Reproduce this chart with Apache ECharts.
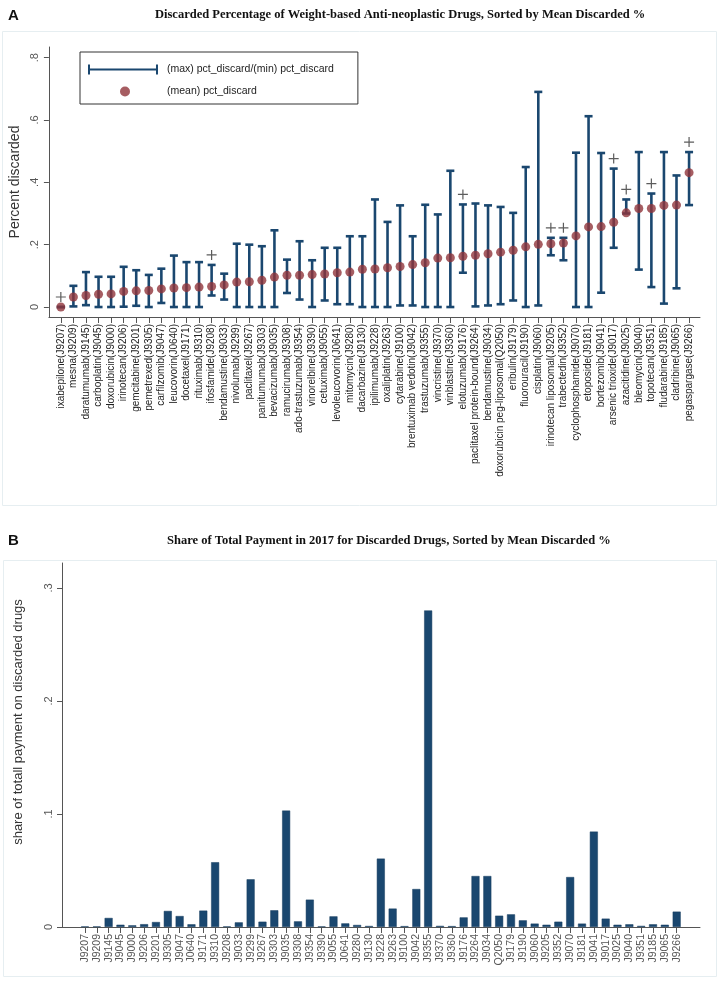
<!DOCTYPE html>
<html>
<head>
<meta charset="utf-8">
<script src="https://cdn.jsdelivr.net/npm/echarts@6/dist/echarts.min.js"></script>
<style>
  html, body { margin: 0; padding: 0; background: #fff; }
  #main { width: 720px; height: 981px; }
</style>
</head>
<body>
<div id="main"></div>
<script>
// drugs sorted by mean discarded share
const drugs = [
  'ixabepilone(J9207)', 'mesna(J9209)', 'daratumumab(J9145)', 'carboplatin(J9045)', 'doxorubicin(J9000)',
  'irinotecan(J9206)', 'gemcitabine(J9201)', 'pemetrexed(J9305)', 'carfilzomib(J9047)', 'leucovorin(J0640)',
  'docetaxel(J9171)', 'rituximab(J9310)', 'ifosfamide(J9208)', 'bendamustine(J9033)', 'nivolumab(J9299)',
  'paclitaxel(J9267)', 'panitumumab(J9303)', 'bevacizumab(J9035)', 'ramucirumab(J9308)', 'ado-trastuzumab(J9354)',
  'vinorelbine(J9390)', 'cetuximab(J9055)', 'levoleucovorin(J0641)', 'mitomycin(J9280)', 'dacarbazine(J9130)',
  'ipilimumab(J9228)', 'oxaliplatin(J9263)', 'cytarabine(J9100)', 'brentuximab vedotin(J9042)', 'trastuzumab(J9355)',
  'vincristine(J9370)', 'vinblastine(J9360)', 'elotuzumab(J9176)', 'paclitaxel protein-bound(J9264)', 'bendamustine(J9034)',
  'doxorubicin peg-liposomal(Q2050)', 'eribulin(J9179)', 'fluorouracil(J9190)', 'cisplatin(J9060)', 'irinotecan liposomal(J9205)',
  'trabectedin(J9352)', 'cyclophosphamide(J9070)', 'etoposide(J9181)', 'bortezomib(J9041)', 'arsenic trioxide(J9017)',
  'azacitidine(J9025)', 'bleomycin(J9040)', 'topotecan(J9351)', 'fludarabine(J9185)', 'cladribine(J9065)',
  'pegaspargase(J9266)'
];
const codes = [
  'J9207', 'J9209', 'J9145', 'J9045', 'J9000', 'J9206', 'J9201', 'J9305', 'J9047', 'J0640',
  'J9171', 'J9310', 'J9208', 'J9033', 'J9299', 'J9267', 'J9303', 'J9035', 'J9308', 'J9354',
  'J9390', 'J9055', 'J0641', 'J9280', 'J9130', 'J9228', 'J9263', 'J9100', 'J9042', 'J9355',
  'J9370', 'J9360', 'J9176', 'J9264', 'J9034', 'Q2050', 'J9179', 'J9190', 'J9060', 'J9205',
  'J9352', 'J9070', 'J9181', 'J9041', 'J9017', 'J9025', 'J9040', 'J9351', 'J9185', 'J9065',
  'J9266'
];
const meanPct = [
  0.000, 0.032, 0.037, 0.041, 0.042, 0.050, 0.052, 0.053, 0.058, 0.061,
  0.062, 0.064, 0.066, 0.071, 0.080, 0.081, 0.086, 0.096, 0.102, 0.102,
  0.104, 0.106, 0.110, 0.112, 0.121, 0.122, 0.126, 0.130, 0.136, 0.142,
  0.157, 0.158, 0.163, 0.166, 0.171, 0.176, 0.182, 0.193, 0.201, 0.203,
  0.205, 0.228, 0.257, 0.258, 0.272, 0.302, 0.316, 0.316, 0.326, 0.327,
  0.431
];
const maxPct = [
  0.000, 0.068, 0.112, 0.097, 0.097, 0.129, 0.118, 0.103, 0.123, 0.165,
  0.144, 0.144, 0.135, 0.107, 0.203, 0.200, 0.195, 0.246, 0.152, 0.211,
  0.150, 0.190, 0.190, 0.227, 0.227, 0.345, 0.273, 0.326, 0.227, 0.328,
  0.297, 0.437, 0.329, 0.332, 0.326, 0.321, 0.302, 0.449, 0.690, 0.222,
  0.222, 0.495, 0.612, 0.494, 0.444, 0.345, 0.497, 0.364, 0.497, 0.422,
  0.497
];
const minPct = [
  0.000, 0.002, 0.006, 0.000, 0.000, 0.001, 0.004, 0.000, 0.013, 0.000,
  0.000, 0.000, 0.037, 0.024, 0.000, 0.000, 0.000, 0.000, 0.045, 0.024,
  0.000, 0.021, 0.009, 0.009, 0.000, 0.000, 0.000, 0.005, 0.005, 0.000,
  0.000, 0.000, 0.110, 0.002, 0.005, 0.009, 0.021, 0.000, 0.005, 0.166,
  0.150, 0.000, 0.000, 0.046, 0.190, 0.300, 0.120, 0.064, 0.011, 0.060,
  0.327
];
// drugs flagged with "+" above the bar
const plusIdx = [0, 12, 32, 39, 40, 44, 45, 47, 50];
const sharePay = [
  0.0005, 0.0005, 0.0080, 0.0020, 0.0015, 0.0025, 0.0044, 0.0142, 0.0097, 0.0024,
  0.0145, 0.0573, 0.0005, 0.0041, 0.0422, 0.0047, 0.0148, 0.1030, 0.0050, 0.0242,
  0.0005, 0.0094, 0.0032, 0.0018, 0.0009, 0.0605, 0.0163, 0.0008, 0.0336, 0.2800,
  0.0010, 0.0008, 0.0085, 0.0451, 0.0451, 0.0100, 0.0112, 0.0059, 0.0030, 0.0020,
  0.0047, 0.0442, 0.0030, 0.0844, 0.0074, 0.0020, 0.0024, 0.0010, 0.0024, 0.0020,
  0.0136
];
const yTicksA = [0, 0.2, 0.4, 0.6, 0.8];
const yTicksB = [0, 0.1, 0.2, 0.3];

const navy = '#1a476f';
const maroon = '#90353b';
const font = '"Liberation Sans", Arial, sans-serif';
const idx = drugs.map((d, i) => i);
const tickLabel = v => v === 0 ? '0' : String(+v.toFixed(1)).replace(/^0/, '');

const chart = echarts.init(document.getElementById('main'), null, {renderer: 'canvas'});

const errName = '(max) pct_discard/(min) pct_discard';
const meanName = '(mean) pct_discard';

chart.setOption({
  backgroundColor: '#fff',
  animation: false,
  textStyle: {fontFamily: font},
  title: [
    {text: 'A', left: 3, top: 3, textStyle: {fontSize: 15, fontWeight: 'bold', color: '#111', fontFamily: font}},
    {text: 'Discarded Percentage of Weight-based Anti-neoplastic Drugs, Sorted by Mean Discarded %',
      left: 150, top: 3,
      textStyle: {fontSize: 12.5, fontWeight: 'bold', color: '#111', fontFamily: '"Liberation Serif", "Times New Roman", serif'}},
    {text: 'B', left: 3, top: 528, textStyle: {fontSize: 15, fontWeight: 'bold', color: '#111', fontFamily: font}},
    {text: 'Share of Total Payment in 2017 for Discarded Drugs, Sorted by Mean Discarded %',
      left: 162, top: 529,
      textStyle: {fontSize: 12.5, fontWeight: 'bold', color: '#111', fontFamily: '"Liberation Serif", "Times New Roman", serif'}}
  ],
  graphic: [
    {type: 'rect', shape: {x: 2.5, y: 31.5, width: 714, height: 474}, style: {fill: null, stroke: '#e6eef1', lineWidth: 1}, silent: true},
    {type: 'rect', shape: {x: 3.5, y: 560.5, width: 713, height: 416}, style: {fill: null, stroke: '#e6eef1', lineWidth: 1}, silent: true}
  ],
  legend: {
    left: 80, top: 52,
    orient: 'vertical',
    padding: [12, 24, 7, 8],
    itemGap: 11,
    itemWidth: 74,
    itemHeight: 10,
    symbolKeepAspect: true,
    borderColor: '#333',
    borderWidth: 1,
    textStyle: {fontSize: 10.5, color: '#222', fontFamily: font},
    data: [
      {name: errName, icon: 'path://M0,0h2v10h-2z M2,4h66v2h-66z M68,0h2v10h-2z M74,0h0.01v0.01h-0.01z', itemStyle: {color: navy}},
      {name: meanName, icon: 'circle', itemStyle: {color: maroon}}
    ]
  },
  grid: [
    {left: 48, right: 20, top: 47, bottom: 664},
    {left: 62, right: 20, top: 563, bottom: 54}
  ],
  xAxis: [
    {
      gridIndex: 0, type: 'value', min: -0.95, max: 50.87,
      splitLine: {show: false},
      axisLine: {onZero: false, lineStyle: {color: '#555', width: 1}},
      axisTick: {customValues: idx, length: 6, lineStyle: {color: '#555'}},
      axisLabel: {customValues: idx, rotate: 90, margin: 7, fontSize: 10, color: '#222',
        formatter: v => drugs[Math.round(v)] || ''}
    },
    {
      gridIndex: 1, type: 'value', min: -1.94, max: 51.97,
      splitLine: {show: false},
      axisLine: {onZero: false, lineStyle: {color: '#555', width: 1}},
      axisTick: {customValues: idx, length: 6, lineStyle: {color: '#555'}},
      axisLabel: {customValues: idx, rotate: 90, margin: 7, fontSize: 10.5, color: '#555',
        formatter: v => codes[Math.round(v)] || ''}
    }
  ],
  yAxis: [
    {
      gridIndex: 0, type: 'value', min: -0.032, max: 0.834,
      name: 'Percent discarded', nameLocation: 'middle', nameGap: 26,
      nameTextStyle: {fontSize: 14, color: '#333', fontFamily: font},
      splitLine: {show: false},
      axisLine: {show: true, onZero: false, lineStyle: {color: '#555'}},
      axisTick: {show: true, customValues: yTicksA, length: 5, lineStyle: {color: '#555'}},
      axisLabel: {customValues: yTicksA, rotate: 90, margin: 8, fontSize: 11, color: '#555', formatter: tickLabel}
    },
    {
      gridIndex: 1, type: 'value', min: 0, max: 0.322,
      name: 'share of totall payment on discarded drugs', nameLocation: 'middle', nameGap: 37,
      nameTextStyle: {fontSize: 13, color: '#333', fontFamily: font, padding: [0, 0, 0, 46]},
      splitLine: {show: false},
      axisLine: {show: true, onZero: false, lineStyle: {color: '#555'}},
      axisTick: {show: true, customValues: yTicksB, length: 5, lineStyle: {color: '#555'}},
      axisLabel: {customValues: yTicksB, rotate: 90, margin: 8, fontSize: 11, color: '#555', formatter: tickLabel}
    }
  ],
  series: [
    {
      name: errName,
      type: 'custom',
      xAxisIndex: 0, yAxisIndex: 0,
      data: idx.map(i => [i, maxPct[i], minPct[i]]),
      encode: {x: 0, y: [1, 2]},
      itemStyle: {color: navy},
      renderItem: function (params, api) {
        const hi = api.coord([api.value(0), api.value(1)]);
        const lo = api.coord([api.value(0), api.value(2)]);
        const cap = 4;
        const st = {stroke: navy, lineWidth: 2.6};
        return {
          type: 'group',
          children: [
            {type: 'line', shape: {x1: hi[0], y1: hi[1], x2: lo[0], y2: lo[1]}, style: st},
            {type: 'line', shape: {x1: hi[0] - cap, y1: hi[1], x2: hi[0] + cap, y2: hi[1]}, style: st},
            {type: 'line', shape: {x1: lo[0] - cap, y1: lo[1], x2: lo[0] + cap, y2: lo[1]}, style: st}
          ]
        };
      },
      z: 2
    },
    {
      name: meanName,
      type: 'scatter',
      xAxisIndex: 0, yAxisIndex: 0,
      data: idx.map(i => [i, meanPct[i]]),
      symbol: 'circle',
      symbolSize: 9,
      itemStyle: {color: maroon},
      z: 3
    },
    {
      name: 'flag',
      type: 'scatter',
      xAxisIndex: 0, yAxisIndex: 0,
      data: plusIdx.map(i => [i, maxPct[i]]),
      symbol: 'path://M4.4,0h1.2v10h-1.2z M0,4.4h10v1.2h-10z',
      symbolSize: 10,
      symbolOffset: [0, -10],
      itemStyle: {color: '#333'},
      z: 3
    },
    {
      name: 'share',
      type: 'bar',
      xAxisIndex: 1, yAxisIndex: 1,
      data: idx.map(i => [i, sharePay[i]]),
      barWidth: 8,
      itemStyle: {color: navy, borderColor: '#163c5e', borderWidth: 0.5}
    }
  ]
});
</script>
</body>
</html>
